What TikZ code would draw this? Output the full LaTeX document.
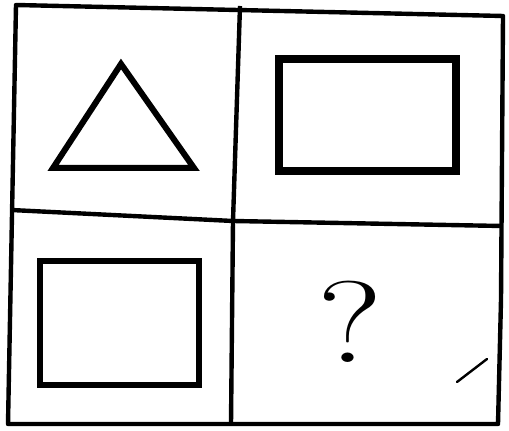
\documentclass[tikz,border=0pt]{standalone}
\begin{document}
\begin{tikzpicture}[x=0.5pt,y=-0.5pt,
  frame/.style={line width=2.2pt,line join=round},
  figure/.style={line width=3pt,line join=miter}]

\useasboundingbox (0,0) rectangle (509,431);

% Cadre
\draw[frame]
(16,5)
--
(503,16)
--
(501,300)
--
(498,424)
--
(8,424)
--
cycle;

% Separations
\draw[frame]
(240,6)
--
(233,221)
--
(231,424);

\draw[frame]
(11,210)
--
(233,221)
--
(502,226);

% Triangle
\draw[figure]
(121,64)
--
(194,168)
--
(53,168)
--
cycle;

% Rectangle
\draw[figure,line width=4pt]
(279,59)
rectangle
(456,171);

% Carre
\draw[figure]
(40,261)
rectangle
(199,385);

% Question
\node[font=\fontsize{58}{60}\selectfont]
(Q)
at (350,322)
{\scalebox{1.3}[1]{?}};

% Trait
\draw[line width=1.2pt,line cap=round]
(487,359)
--
(457,382);

\end{tikzpicture}
\end{document}
